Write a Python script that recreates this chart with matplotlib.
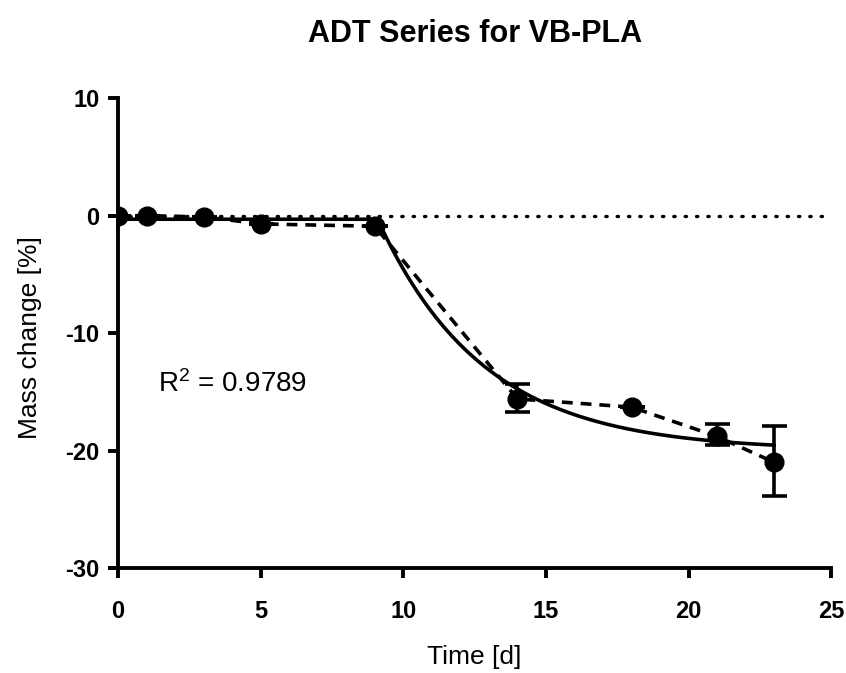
import numpy as np
import matplotlib
matplotlib.use("Agg")
import matplotlib.pyplot as plt

days = [0, 1, 3, 5, 9, 14, 18, 21, 23]
mass_change = [0.0, 0.0, -0.1, -0.7, -0.9, -15.6, -16.3, -18.8, -21.0]
err_low = [0, 0, 0, 0, 0, 1.1, 0, 0.7, 2.9]
err_high = [0, 0, 0, 0, 0, 1.3, 0, 1.1, 3.1]

# plateau followed by one-phase decay fit
fit_y0 = -0.3
fit_x0 = 9.1
fit_plateau = -20.0
fit_k = 0.27
r2_text = "R$^{2}$ = 0.9789"

plt.rcParams['font.family'] = ['Liberation Sans', 'DejaVu Sans']
plt.rcParams['mathtext.default'] = 'regular'
plt.rcParams['axes.unicode_minus'] = False

fig = plt.figure(figsize=(8.46, 6.73), dpi=100)
ax = fig.add_axes([0.1395, 0.156, 0.843, 0.698])

xf = np.linspace(0, 23, 400)
yf = np.where(xf < fit_x0, fit_y0,
              fit_y0 + (fit_plateau - fit_y0) * (1 - np.exp(-fit_k * (xf - fit_x0))))

ax.axhline(0, color='black', lw=2.4, ls=(0, (0.4, 3.0)), dash_capstyle='round', zorder=1)
ax.plot(xf, yf, color='black', lw=2.6, zorder=2)
ax.plot(days, mass_change, color='black', lw=2.6, ls=(0, (3, 2.2)), zorder=3)
ax.errorbar(days, mass_change, yerr=[err_low, err_high], fmt='o', color='black',
            ms=13.5, elinewidth=2.6, capsize=9, capthick=2.6, zorder=4)

ax.text(1.4, -14.3, r2_text, fontsize=20, va='center', ha='left')

ax.set_xlim(0, 25)
ax.set_ylim(-30, 10)
ax.set_xticks([0, 5, 10, 15, 20, 25])
ax.set_yticks([-30, -20, -10, 0, 10])
for s in ['top', 'right']:
    ax.spines[s].set_visible(False)
for s in ['left', 'bottom']:
    ax.spines[s].set_linewidth(2.8)
ax.tick_params(axis='both', width=2.8, length=7.2, labelsize=17, direction='out')
ax.tick_params(axis='x', pad=16)
ax.tick_params(axis='y', pad=6)
for lab in ax.get_xticklabels() + ax.get_yticklabels():
    lab.set_fontweight('bold')

ax.set_xlabel("Time [d]", fontsize=19)
ax.xaxis.label.set_va('center')
ax.xaxis.set_label_coords(0.50, -0.189)
ax.set_ylabel("Mass change [%]", fontsize=19)
ax.yaxis.label.set_va('center')
ax.yaxis.set_label_coords(-0.123, 0.49)
fig.text(0.561, 0.949, "ADT Series for VB-PLA", ha='center', va='center',
         fontsize=22, fontweight='bold')

fig.savefig("out.png", dpi=100)
